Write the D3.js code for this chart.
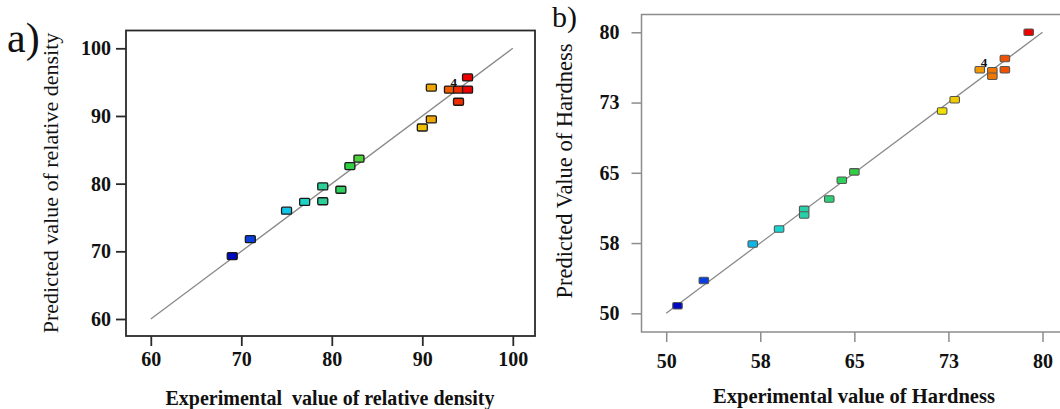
<!DOCTYPE html>
<html><head><meta charset="utf-8">
<script src="https://cdn.jsdelivr.net/npm/d3@7"></script>
<style>body{margin:0;background:#fff}svg{display:block}text{font-family:"Liberation Serif","Times New Roman",serif}</style>
</head><body>
<svg id="c" width="1060" height="409"></svg>
<script>
// ---- Data: panel a) relative density ----
const densityActual    = [69, 71, 75, 77, 79, 79, 81, 82, 83, 90, 91, 91, 93, 94, 94, 95, 95];
const densityPredicted = [69.3, 71.8, 76.0, 77.3, 79.6, 77.4, 79.1, 82.6, 83.7, 88.3, 89.5, 94.2, 93.9, 93.9, 92.1, 93.9, 95.7];
const densityTicks = [60, 70, 80, 90, 100];
const densityTickLabels = ["60", "70", "80", "90", "100"];
// ---- Data: panel b) hardness ----
const hardActual    = [50.9, 53, 56.9, 59, 61, 61, 63, 64, 65, 72, 73, 75, 76, 76, 77, 77, 78.9];
const hardPredicted = [50.8, 53.5, 57.4, 59.0, 61.1, 60.5, 62.2, 64.2, 65.1, 71.6, 72.8, 76.0, 75.9, 75.3, 77.2, 76.0, 80.0];
const hardTicks = [50, 57.5, 65, 72.5, 80];
const hardTickLabels = ["50", "58", "65", "73", "80"];
const pointLabelA = {index: 12, text: "4"};
const pointLabelB = {index: 11, text: "4"};

const svg = d3.select("#c");
const SERIF = "Liberation Serif, Times New Roman, serif";

function jet(domain){
  const [a,b] = domain;
  return d3.scaleLinear()
    .domain([0,0.1,0.25,0.38,0.5,0.62,0.75,0.85,0.93,1].map(v=>a+(b-a)*v))
    .range(["#0008c0","#0a50e6","#12d6e6","#2ccf9c","#30cf44","#8ed42a","#efe400","#f0a400","#f05400","#ee0000"]);
}

function panel(o){
  const g = svg.append("g");
  const x = d3.scaleLinear().domain(o.xDomain).range(o.xRange);
  const y = d3.scaleLinear().domain(o.yDomain).range(o.yRange);
  const fr = o.frame;
  g.append("rect").attr("x",fr[0]).attr("y",fr[1]).attr("width",fr[2]-fr[0]).attr("height",fr[3]-fr[1])
    .attr("fill","none").attr("stroke",o.frameColor).attr("stroke-width",o.frameWidth);
  const xa = g.append("g").attr("transform",`translate(0,${fr[3]})`)
    .call(d3.axisBottom(x).tickValues(o.ticks).tickFormat((d,i)=>o.tickLabels[i]).tickSize(10).tickPadding(o.xPad).tickSizeOuter(0));
  const ya = g.append("g").attr("transform",`translate(${fr[0]},0)`)
    .call(d3.axisLeft(y).tickValues(o.ticks).tickFormat((d,i)=>o.tickLabels[i]).tickSize(10).tickPadding(o.yPad).tickSizeOuter(0));
  [xa,ya].forEach(a=>{
    a.attr("font-family",SERIF).attr("font-size",o.tickFont).attr("font-weight","bold");
    a.select(".domain").remove();
    a.selectAll("line").attr("stroke",o.frameColor).attr("stroke-width",o.frameWidth);
    a.selectAll("text").attr("fill","#111");
  });
  g.append("line").attr("x1",x(o.xDomain[0])).attr("y1",y(o.yDomain[0])).attr("x2",x(o.xDomain[1])).attr("y2",y(o.yDomain[1]))
    .attr("stroke","#8a8a8a").attr("stroke-width",1.3);
  const col = jet([d3.min(o.actual), d3.max(o.actual)]);
  const pts = o.actual.map((v,i)=>({a:v,p:o.pred[i]}));
  g.selectAll("rect.pt").data(pts).join("rect").attr("class","pt")
    .attr("x",d=>x(d.a)-o.mw/2).attr("y",d=>y(d.p)-o.mh/2).attr("width",o.mw).attr("height",o.mh).attr("rx",1.2)
    .attr("fill",d=>col(d.a)).attr("stroke",o.markerStroke).attr("stroke-width",o.msw);
  const lp = pts[o.label.index];
  g.append("text").attr("x",x(lp.a)+1).attr("y",y(lp.p)-3).text(o.label.text)
    .attr("font-family",SERIF).attr("font-size",13).attr("font-weight","bold").attr("fill","#111");
  g.append("text").attr("x",o.xTitle[1]).attr("y",o.xTitle[2]).attr("text-anchor","middle")
    .attr("font-family",SERIF).attr("font-size",o.xTitle[3]).attr("font-weight","bold").attr("fill","#111").text(o.xTitle[0]);
  g.append("text").attr("transform",`translate(${o.yTitle[1]},${o.yTitle[2]}) rotate(-90)`).attr("text-anchor","middle")
    .attr("font-family",SERIF).attr("font-size",o.yTitle[3]).attr("fill","#111").text(o.yTitle[0]);
  g.append("text").attr("x",o.tag[1]).attr("y",o.tag[2]).attr("font-family",SERIF).attr("font-size",o.tag[3]).attr("fill","#111").text(o.tag[0]);
}

panel({
  xDomain:[60,100], yDomain:[60,100], xRange:[150.8,512.8], yRange:[319,48.3],
  frame:[126,30.5,535,336], frameColor:"#2a2a2a", frameWidth:1.8,
  ticks:densityTicks, tickLabels:densityTickLabels, xPad:6, yPad:5, tickFont:20,
  actual:densityActual, pred:densityPredicted, markerStroke:"#1a1a1a", msw:1.3, mw:10, mh:7, label:pointLabelA,
  xTitle:["Experimental\u00a0 value of relative density",330,405,20],
  yTitle:["Predicted value of relative density",58,183,22],
  tag:["a)",7,52,42]
});
panel({
  xDomain:[50,80], yDomain:[50,80], xRange:[666.2,1042.5], yRange:[313.3,32.3],
  frame:[641.5,14.5,1070,332], frameColor:"#8c8c8c", frameWidth:1.5,
  ticks:hardTicks, tickLabels:hardTickLabels, xPad:12, yPad:12, tickFont:20,
  actual:hardActual, pred:hardPredicted, markerStroke:"#555", msw:1.1, mw:9.5, mh:6.5, label:pointLabelB,
  xTitle:["Experimental value of Hardness",854,403,20.5],
  yTitle:["Predicted Value of Hardness",572,171,22.5],
  tag:["b)",552,27,30]
});
</script>
</body></html>
